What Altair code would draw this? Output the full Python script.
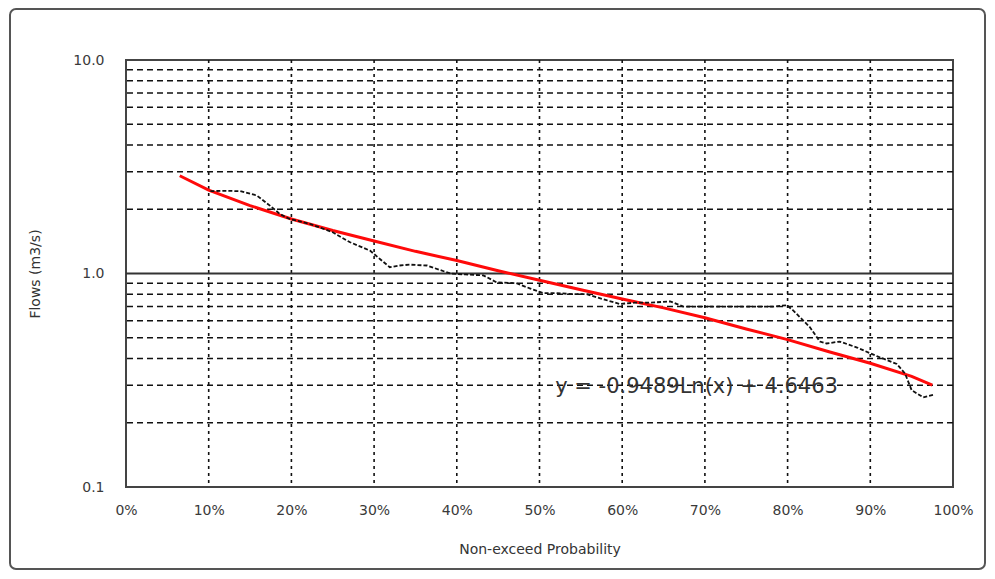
import altair as alt
import pandas as pd

# Observed flow-duration curve (non-exceed probability %, flow m3/s)
obs_p = [10.2, 12.0, 13.8, 15.8, 17.4, 18.6, 19.8, 22.2, 25.0, 27.1, 29.5, 30.7, 31.9,
         33.1, 34.3, 36.4, 39.2, 41.0, 43.2, 44.8, 47.2, 48.9, 50.4, 52.0, 54.1, 55.7,
         58.1, 59.7, 61.5, 63.4, 65.8, 67.4, 70.0, 73.0, 75.5, 78.3, 79.9, 80.7, 82.7,
         83.9, 84.7, 86.3, 88.4, 90.8, 93.2, 94.2, 95.0, 96.4, 97.6]
obs_q = [2.43, 2.44, 2.43, 2.32, 2.08, 1.90, 1.80, 1.71, 1.56, 1.40, 1.28, 1.17, 1.07,
         1.09, 1.10, 1.09, 1.00, 0.99, 0.98, 0.91, 0.90, 0.85, 0.81, 0.81, 0.80, 0.80,
         0.75, 0.72, 0.73, 0.73, 0.74, 0.70, 0.70, 0.70, 0.70, 0.70, 0.71, 0.67, 0.56,
         0.48, 0.47, 0.48, 0.45, 0.41, 0.377, 0.34, 0.284, 0.263, 0.27]

# Trend line (red)
trend_p = [6.5, 10, 15, 20, 25, 30, 35, 40, 45, 50, 55, 60, 65, 70, 75, 80, 85, 90, 95, 97.5]
trend_q = [2.87, 2.46, 2.08, 1.80, 1.59, 1.42, 1.27, 1.15, 1.03, 0.93, 0.84, 0.76, 0.69,
           0.62, 0.55, 0.49, 0.43, 0.38, 0.33, 0.30]

x_ticks = [0, 10, 20, 30, 40, 50, 60, 70, 80, 90, 100]
x_grid = [10, 20, 30, 40, 50, 60, 70, 80, 90]
y_ticks = [0.1, 1.0, 10.0]
y_grid = [0.2, 0.3, 0.4, 0.5, 0.6, 0.7, 0.8, 0.9, 2, 3, 4, 5, 6, 7, 8, 9]
y_solid = [1.0]

eq_label = ["y = -0.9489Ln(x) + 4.6463"]
eq_p = [51.9]
eq_q = [0.293]

FONT = "DejaVu Sans"
LABEL_COLOR = "#3a3a3a"

xs = alt.Scale(domain=[0, 100], nice=False, zero=False)
ys = alt.Scale(type="log", domain=[0.1, 10], nice=False)

xaxis = alt.Axis(values=x_ticks, labelExpr="datum.value + '%'", grid=False, ticks=False,
                 domain=False, labelPadding=16, labelFont=FONT, labelFontSize=14,
                 labelColor=LABEL_COLOR, title="Non-exceed Probability", titleFont=FONT,
                 titleFontSize=14, titleFontWeight="normal", titleColor="#333333",
                 titlePadding=25, labelFlush=False)
yaxis = alt.Axis(values=y_ticks, format=".1f", grid=False, ticks=False, domain=False,
                 labelPadding=22, labelFont=FONT, labelFontSize=14, labelColor=LABEL_COLOR,
                 title="Flows (m3/s)", titleFont=FONT, titleFontSize=14,
                 titleFontWeight="normal", titleColor="#333333", titlePadding=30,
                 labelFlush=False)

X = alt.X("p:Q", scale=xs, axis=xaxis)
Y = alt.Y("v:Q", scale=ys, axis=yaxis)

vgrid = alt.Chart(pd.DataFrame({"p": x_grid})).mark_rule(
    color="#111111", strokeWidth=1.6, strokeDash=[3, 4]).encode(x=X)
hgrid = alt.Chart(pd.DataFrame({"v": y_grid})).mark_rule(
    color="#111111", strokeWidth=1.5, strokeDash=[6, 4]).encode(y=Y)
hsolid = alt.Chart(pd.DataFrame({"v": y_solid})).mark_rule(
    color="#333333", strokeWidth=2).encode(y=Y)

obs = alt.Chart(pd.DataFrame({"p": obs_p, "v": obs_q})).mark_line(
    color="#111111", strokeWidth=1.8, strokeDash=[4, 2]).encode(x=X, y=Y)
trend = alt.Chart(pd.DataFrame({"p": trend_p, "v": trend_q})).mark_line(
    color="#ff0a0a", strokeWidth=3).encode(x=X, y=Y)

eq = alt.Chart(pd.DataFrame({"p": eq_p, "v": eq_q, "t": eq_label})).mark_text(
    align="left", baseline="middle", font=FONT, fontSize=21, color="#333333").encode(
    x=X, y=Y, text="t:N")

frame = alt.Chart(pd.DataFrame({"a": [0]})).mark_rect(
    fill=None, fillOpacity=0, stroke="#555555", strokeWidth=2, cornerRadius=6).encode(
    x=alt.value(-116), x2=alt.value(859), y=alt.value(-51), y2=alt.value(509))

chart = alt.layer(frame, vgrid, hgrid, hsolid, trend, obs, eq).properties(
    width=827, height=427,
    autosize=alt.AutoSizeParams(type="none"),
    padding={"left": 118, "top": 52, "right": 34, "bottom": 84},
    background="white",
).configure_view(stroke="#444444", strokeWidth=2)

chart.save("out.html", embed_options={"renderer": "svg", "actions": False})
